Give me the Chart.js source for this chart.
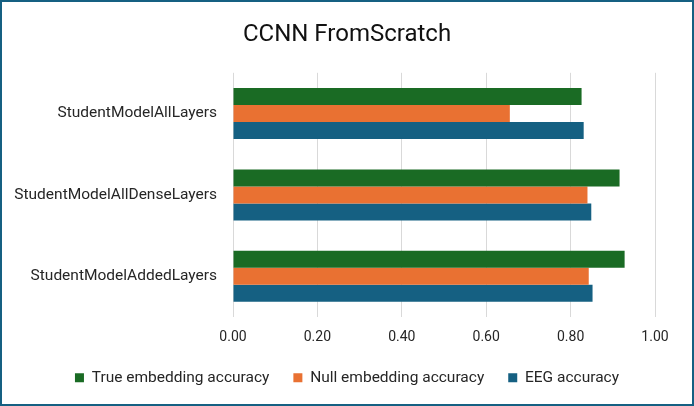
<!DOCTYPE html>
<html><head><meta charset="utf-8">
<script src="https://cdn.jsdelivr.net/npm/chart.js@4/dist/chart.umd.min.js"></script>
<style>html,body{margin:0;padding:0;background:#fff}#wrap{width:694px;height:406px;position:relative}</style>
</head><body><div id="wrap"><canvas id="c" width="694" height="406"></canvas></div>
<script>
const categories = ["StudentModelAllLayers", "StudentModelAllDenseLayers", "StudentModelAddedLayers"];
const trueEmbedding = [0.826, 0.916, 0.928];
const nullEmbedding = [0.656, 0.840, 0.843];
const eegAccuracy = [0.831, 0.849, 0.852];
const seriesNames = ["True embedding accuracy", "Null embedding accuracy", "EEG accuracy"];
const xTicks = [0, 0.2, 0.4, 0.6, 0.8, 1.0];

const FONT = "Roboto, 'Noto Sans', sans-serif";
const borderPlugin = {
  id: 'frame',
  afterDraw(chart) {
    const ctx = chart.ctx;
    ctx.save();
    ctx.strokeStyle = '#156082';
    ctx.lineWidth = 2;
    ctx.strokeRect(1, 1, chart.width - 2, chart.height - 2);
    ctx.restore();
  }
};
new Chart(document.getElementById('c'), {
  type: 'bar',
  data: {
    labels: categories,
    datasets: [
      {label: seriesNames[0], data: trueEmbedding, backgroundColor: '#1a6b24'},
      {label: seriesNames[1], data: nullEmbedding, backgroundColor: '#e97132'},
      {label: seriesNames[2], data: eegAccuracy, backgroundColor: '#156082'}
    ]
  },
  plugins: [borderPlugin],
  options: {
    indexAxis: 'y',
    responsive: false,
    animation: false,
    devicePixelRatio: 1,
    layout: {padding: {left: 10, right: 10, top: 0, bottom: 10.5}},
    datasets: {bar: {barPercentage: 1, categoryPercentage: 0.626}},
    scales: {
      x: {
        min: 0, max: 1,
        afterBuildTicks(s) { s.ticks = xTicks.map(v => ({value: v})); },
        afterFit(s) { s.height = 29; },
        grid: {color: '#d9d9d9', lineWidth: 1, drawTicks: false},
        border: {display: false},
        ticks: {padding: 12, color: '#262626', font: {family: FONT, size: 14}, callback: v => Number(v).toFixed(2)}
      },
      y: {
        grid: {display: false, drawTicks: false},
        border: {display: false},
        afterFit(s) { s.width = 223; },
        ticks: {padding: 16, color: '#262626', font: {family: FONT, size: 15.5}}
      },
      yRightSpace: {
        type: 'linear', axis: 'y', position: 'right', display: true,
        grid: {display: false, drawTicks: false},
        border: {display: false},
        ticks: {display: false},
        afterFit(s) { s.width = 29; }
      }
    },
    plugins: {
      title: {display: true, text: 'CCNN FromScratch', color: '#111', font: {family: FONT, size: 24, weight: 'normal'}, padding: {top: 21, bottom: 23}},
      legend: {position: 'bottom', labels: {boxWidth: 9, boxHeight: 9, padding: 24, color: '#262626', font: {family: FONT, size: 15.5}}},
      tooltip: {enabled: false}
    }
  }
});
</script></body></html>
